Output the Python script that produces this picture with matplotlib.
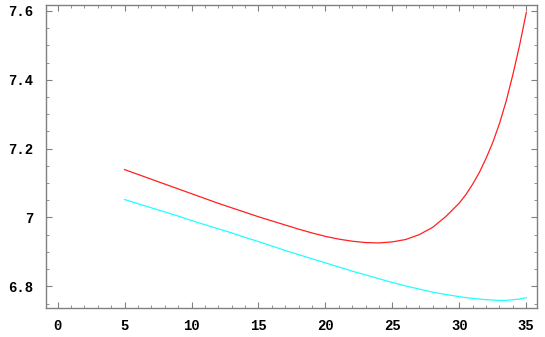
import numpy as np
import matplotlib
matplotlib.use("Agg")
import matplotlib.pyplot as plt
from matplotlib.ticker import MultipleLocator, FuncFormatter

# ==========================================
# DATA
# ==========================================
x_vals = [5, 6, 7, 8, 9, 10, 11, 12, 13, 14, 15, 16, 17, 18, 19, 20,
          21, 22, 23, 24, 25, 26, 27, 28, 29, 30, 30.5, 31, 31.5, 32,
          32.5, 33, 33.5, 34, 34.5, 35]

upper_curve = [7.139, 7.125, 7.111, 7.097, 7.083, 7.069, 7.055, 7.041, 7.028, 7.015,
               7.002, 6.990, 6.978, 6.966, 6.955, 6.945, 6.937, 6.931, 6.927, 6.926,
               6.929, 6.936, 6.950, 6.971, 7.003, 7.042, 7.067, 7.097, 7.131, 7.172,
               7.218, 7.273, 7.338, 7.415, 7.500, 7.595]

lower_curve = [7.052, 7.040, 7.028, 7.016, 7.004, 6.991, 6.979, 6.967, 6.955, 6.942,
               6.930, 6.917, 6.904, 6.892, 6.880, 6.868, 6.856, 6.844, 6.833, 6.822,
               6.811, 6.801, 6.792, 6.783, 6.776, 6.770, 6.767, 6.765, 6.763, 6.761,
               6.760, 6.759, 6.759, 6.761, 6.763, 6.767]

x_ticks = [0, 5, 10, 15, 20, 25, 30, 35]
y_ticks = [6.8, 7.0, 7.2, 7.4, 7.6]

# ==========================================
# PLOT
# ==========================================
fig = plt.figure(figsize=(5.45, 3.37), dpi=100)
ax = fig.add_axes([0.0844, 0.0861, 0.9009, 0.8989])

ax.plot(x_vals, upper_curve, color="#ff2020", lw=0.9)
ax.plot(x_vals, lower_curve, color="#20ffff", lw=0.9)

ax.set_xlim(-0.87, 35.8)
ax.set_ylim(6.737, 7.617)

ax.set_xticks(x_ticks)
ax.set_yticks(y_ticks)
ax.xaxis.set_minor_locator(MultipleLocator(1))
ax.yaxis.set_minor_locator(MultipleLocator(0.05))


def fmt_y(v, pos):
    s = f"{v:.1f}"
    return "7" if s == "7.0" else s


ax.yaxis.set_major_formatter(FuncFormatter(fmt_y))

for side in ["left", "right", "top", "bottom"]:
    ax.spines[side].set_color("#808080")
    ax.spines[side].set_linewidth(1.0)

ax.tick_params(which="both", direction="in", top=True, right=True,
               color="#808080", labeltop=False, labelright=False)
ax.tick_params(which="major", length=4, width=0.8)
ax.tick_params(which="minor", length=2, width=0.6)
ax.tick_params(axis="x", which="major", pad=8)
ax.tick_params(axis="y", which="major", pad=9)

for lbl in ax.get_xticklabels() + ax.get_yticklabels():
    lbl.set_fontfamily("Liberation Mono")
    lbl.set_fontweight("bold")
    lbl.set_fontsize(10)

plt.savefig("out.png", dpi=100)
